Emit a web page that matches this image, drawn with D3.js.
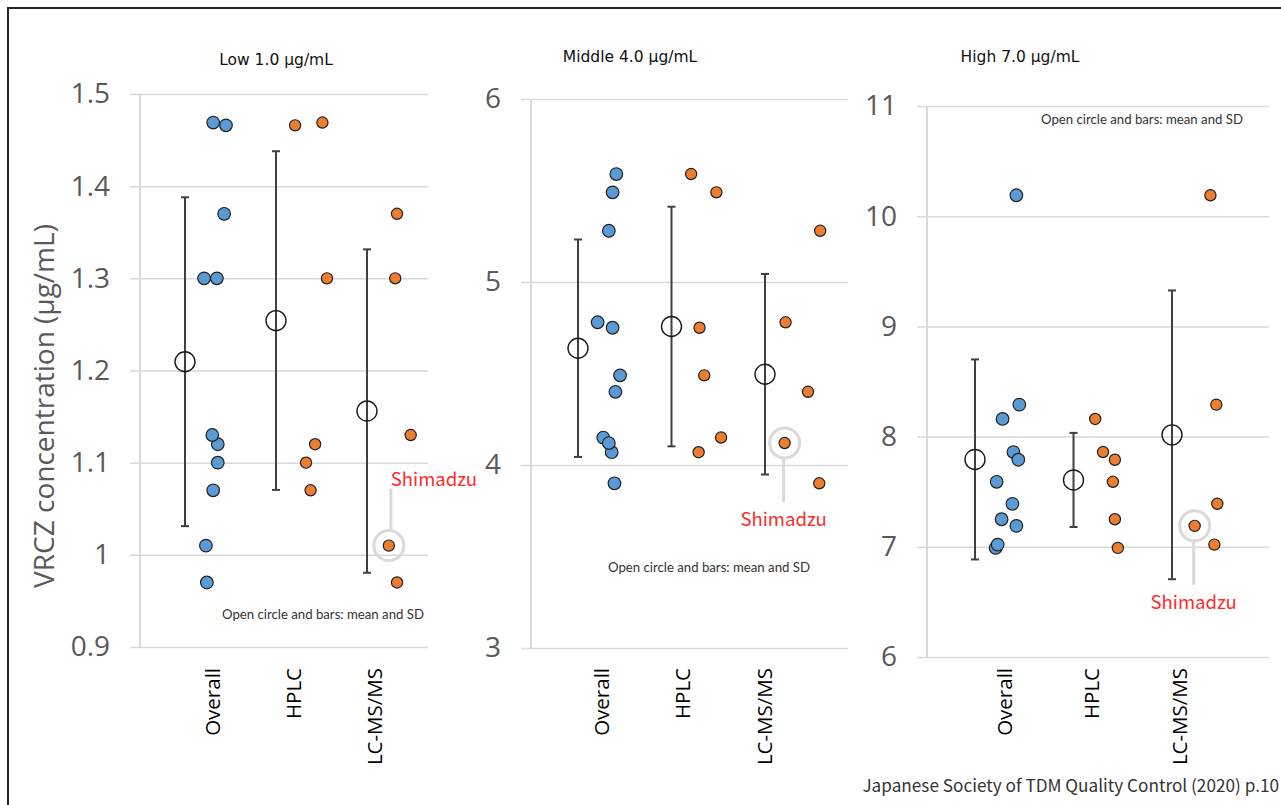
<!DOCTYPE html>
<html>
<head>
<meta charset="utf-8">
<script src="https://cdn.jsdelivr.net/npm/d3@7"></script>
<style>
  html, body { margin: 0; padding: 0; background: #fff; }
  svg { display: block; }
</style>
</head>
<body>
<svg id="chart" width="1281" height="805"></svg>
<script>
// ---- data -------------------------------------------------------------
const categories = ["Overall", "HPLC", "LC-MS/MS"];
const panelTitles = ["Low 1.0 \u03bcg/mL", "Middle 4.0 \u03bcg/mL", "High 7.0 \u03bcg/mL"];

// y-axis tick values per panel
const lowTicks = [0.9, 1.0, 1.1, 1.2, 1.3, 1.4, 1.5];
const middleTicks = [3, 4, 5, 6];
const highTicks = [6, 7, 8, 9, 10, 11];

// measured concentrations (μg/mL) per method, with x positions in category units
const lowHPLC = [1.466, 1.469, 1.30, 1.12, 1.10, 1.07];
const lowHPLCx = [2.21, 2.51, 2.56, 2.43, 2.33, 2.38];
const lowLCMS = [1.37, 1.30, 1.13, 1.01, 0.97];
const lowLCMSx = [3.33, 3.31, 3.48, 3.24, 3.33];
const lowOverallX = [1.45, 1.31, 1.35, 1.36, 1.36, 1.31, 1.43, 1.21, 1.30, 1.23, 1.24];

const middleHPLC = [5.59, 5.49, 4.75, 4.49, 4.15, 4.07];
const middleHPLCx = [2.21, 2.48, 2.30, 2.35, 2.53, 2.29];
const middleLCMS = [5.28, 4.78, 4.40, 4.12, 3.90];
const middleLCMSx = [3.59, 3.22, 3.46, 3.21, 3.58];
const middleOverallX = [1.41, 1.37, 1.37, 1.45, 1.27, 1.36, 1.33, 1.21, 1.40, 1.33, 1.39];

const highHPLC = [8.16, 7.86, 7.79, 7.59, 7.25, 6.99];
const highHPLCx = [2.22, 2.30, 2.42, 2.40, 2.42, 2.45];
const highLCMS = [10.19, 8.29, 7.39, 7.19, 7.02];
const highLCMSx = [3.39, 3.45, 3.46, 3.23, 3.43];
const highOverallX = [1.28, 1.39, 1.44, 1.22, 1.27, 1.21, 1.42, 1.45, 1.38, 1.42, 1.23];

// index of the Shimadzu laboratory within the LC-MS/MS results
const shimadzuIndex = 3;

// ---- layout -----------------------------------------------------------
const panels = [
  { title: panelTitles[0], ticks: lowTicks, hplc: lowHPLC, hplcX: lowHPLCx, lcms: lowLCMS, lcmsX: lowLCMSx, overallX: lowOverallX,
    axisX: 140, right: 428, top: 94, bottom: 647, meanRange: [185, 367], labelRange: [212, 374],
    titleX: 276, titleY: 65, noteX: 222, noteY: 619, callout: "up" },
  { title: panelTitles[1], ticks: middleTicks, hplc: middleHPLC, hplcX: middleHPLCx, lcms: middleLCMS, lcmsX: middleLCMSx, overallX: middleOverallX,
    axisX: 531, right: 848, top: 99, bottom: 648, meanRange: [578, 765], labelRange: [601, 764],
    titleX: 630, titleY: 62, noteX: 608, noteY: 572, callout: "down" },
  { title: panelTitles[2], ticks: highTicks, hplc: highHPLC, hplcX: highHPLCx, lcms: highLCMS, lcmsX: highLCMSx, overallX: highOverallX,
    axisX: 927, right: 1269, top: 106, bottom: 657, meanRange: [975, 1172], labelRange: [1004, 1179],
    titleX: 1020, titleY: 62, noteX: 1041, noteY: 124, callout: "down" }
];

const BLUE = "#5b9bd5", ORANGE = "#ed7d31";
const svg = d3.select("#chart");

// outer frame
svg.append("path")
  .attr("d", "M8,805V8H1281")
  .attr("fill", "none").attr("stroke", "#262626").attr("stroke-width", 2);

// y-axis title
svg.append("text")
  .attr("transform", "translate(44,406) rotate(-90)")
  .attr("text-anchor", "middle").attr("dy", "0.35em")
  .style("font-family", "'Open Sans', sans-serif").style("font-size", "28px")
  .attr("fill", "#595959")
  .text("VRCZ concentration (\u03bcg/mL)");

const fmt = d3.format("~g");

panels.forEach(p => {
  const g = svg.append("g");
  const y = d3.scaleLinear().domain(d3.extent(p.ticks)).range([p.bottom, p.top]);
  const x = d3.scaleLinear().domain([1, 3]).range(p.meanRange);
  const xLabel = d3.scalePoint().domain(categories).range(p.labelRange);

  // gridlines + tick labels
  const yAxis = g.append("g")
    .attr("transform", `translate(${p.axisX - 10},0)`)
    .call(d3.axisLeft(y).tickValues(p.ticks).tickFormat(fmt)
      .tickSize(-(p.right - p.axisX + 10)).tickPadding(20));
  yAxis.select(".domain").remove();
  yAxis.selectAll(".tick line").attr("stroke", "#d9d9d9").attr("stroke-width", 1.5);
  yAxis.selectAll(".tick text")
    .attr("fill", "#595959")
    .style("font-family", "'Open Sans', sans-serif").style("font-size", "28px");

  // vertical axis line
  g.append("line")
    .attr("x1", p.axisX).attr("x2", p.axisX)
    .attr("y1", y.range()[1]).attr("y2", y.range()[0])
    .attr("stroke", "#d9d9d9").attr("stroke-width", 2);

  // category labels (rotated)
  const xAxis = g.append("g")
    .attr("transform", "translate(0,668)")
    .call(d3.axisBottom(xLabel).tickSize(0));
  xAxis.select(".domain").remove();
  xAxis.selectAll(".tick text")
    .attr("x", 0).attr("y", 0).attr("dy", "0.36em")
    .attr("transform", "rotate(-90)")
    .style("text-anchor", "end")
    .attr("fill", "#000")
    .style("font-family", "'Open Sans', sans-serif").style("font-size", "20.5px");

  // panel title
  g.append("text")
    .attr("x", p.titleX).attr("y", p.titleY)
    .attr("text-anchor", "middle")
    .style("font-family", "'DejaVu Sans', sans-serif").style("font-size", "15.5px")
    .attr("fill", "#111")
    .text(p.title);

  // note
  g.append("text")
    .attr("x", p.noteX).attr("y", p.noteY)
    .style("font-family", "Lato, sans-serif").style("font-size", "13.2px")
    .attr("fill", "#333")
    .text("Open circle and bars: mean and SD");

  // group data
  const overall = p.hplc.concat(p.lcms);
  const groups = [
    { name: "Overall", values: overall, xs: p.overallX, color: BLUE, r: 6.3, pos: 1 },
    { name: "HPLC", values: p.hplc, xs: p.hplcX, color: ORANGE, r: 5.6, pos: 2 },
    { name: "LC-MS/MS", values: p.lcms, xs: p.lcmsX, color: ORANGE, r: 5.6, pos: 3 }
  ];

  // Shimadzu highlight ring and callout (behind the point)
  const sv = p.lcms[shimadzuIndex], sx = x(p.lcmsX[shimadzuIndex]), sy = y(sv);
  const ringR = 15;
  g.append("circle")
    .attr("cx", sx).attr("cy", sy).attr("r", ringR)
    .attr("fill", "none").attr("stroke", "#d9d9d9").attr("stroke-width", 3);
  if (p.callout === "up") {
    g.append("line")
      .attr("x1", sx + 2).attr("x2", sx + 2)
      .attr("y1", sy - ringR).attr("y2", sy - ringR - 42)
      .attr("stroke", "#d9d9d9").attr("stroke-width", 3);
    g.append("text")
      .attr("x", sx + 2).attr("y", sy - ringR - 45)
      .style("font-family", "'Noto Sans CJK JP', 'Noto Sans', sans-serif").style("font-size", "18.5px")
      .attr("fill", "#ff2b2b")
      .text("Shimadzu");
  } else {
    g.append("line")
      .attr("x1", sx - 1).attr("x2", sx - 1)
      .attr("y1", sy + ringR).attr("y2", sy + ringR + 44)
      .attr("stroke", "#d9d9d9").attr("stroke-width", 3);
    g.append("text")
      .attr("x", sx - 1).attr("y", sy + ringR + 44 + 24)
      .attr("text-anchor", "middle")
      .style("font-family", "'Noto Sans CJK JP', 'Noto Sans', sans-serif").style("font-size", "18.5px")
      .attr("fill", "#ff2b2b")
      .text("Shimadzu");
  }

  groups.forEach(gr => {
    const m = d3.mean(gr.values), sd = d3.deviation(gr.values);
    const mx = x(gr.pos);
    // SD bar
    g.append("line")
      .attr("x1", mx).attr("x2", mx).attr("y1", y(m + sd)).attr("y2", y(m - sd))
      .attr("stroke", "#404040").attr("stroke-width", 2);
    [m + sd, m - sd].forEach(v => g.append("line")
      .attr("x1", mx - 4).attr("x2", mx + 4).attr("y1", y(v)).attr("y2", y(v))
      .attr("stroke", "#404040").attr("stroke-width", 2));
    // mean (open circle)
    g.append("circle")
      .attr("cx", mx).attr("cy", y(m)).attr("r", 10)
      .attr("fill", "none").attr("stroke", "#1a1a1a").attr("stroke-width", 1.4);
    // individual results
    g.selectAll(null)
      .data(gr.values.map((v, i) => ({ v, xv: gr.xs[i] })))
      .join("circle")
      .attr("cx", d => x(d.xv)).attr("cy", d => y(d.v)).attr("r", gr.r)
      .attr("fill", gr.color).attr("stroke", "#1f1f1f").attr("stroke-width", 1.2);
  });
});

// source
svg.append("text")
  .attr("x", 1279).attr("y", 792)
  .attr("text-anchor", "end")
  .style("font-family", "'Noto Sans CJK JP', 'Noto Sans', sans-serif").style("font-size", "17.2px")
  .attr("fill", "#333")
  .text("Japanese Society of TDM Quality Control (2020) p.10");
</script>
</body>
</html>
